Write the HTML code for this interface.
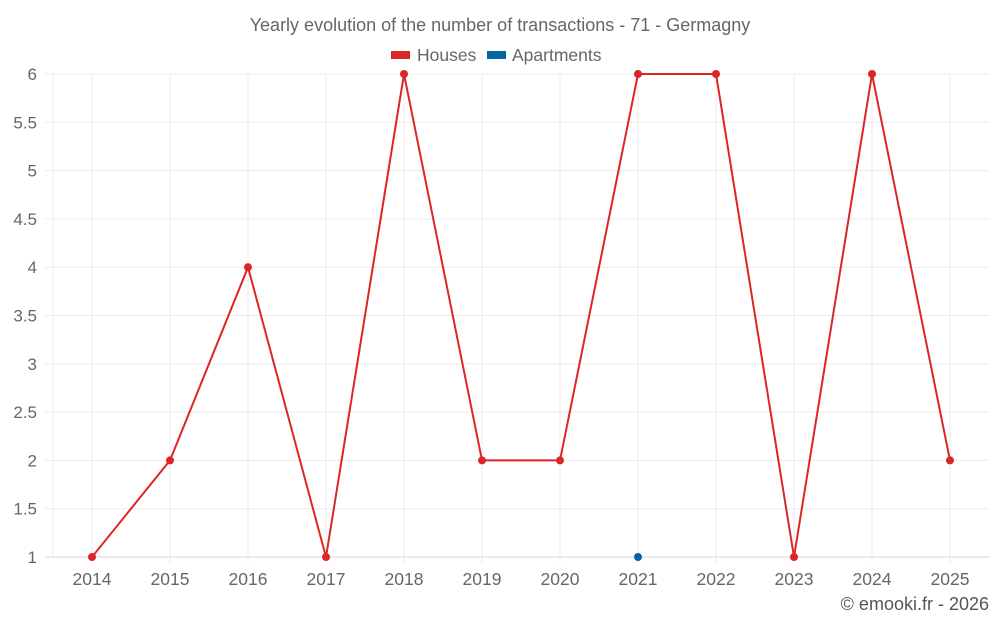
<!DOCTYPE html>
<html><head><meta charset="utf-8"><style>
html,body{margin:0;padding:0;background:#fff;}
svg{display:block;font-family:"Liberation Sans",sans-serif;}
</style></head><body>
<svg id="chart" width="1000" height="625" xmlns="http://www.w3.org/2000/svg">
<text x="500" y="31" text-anchor="middle" font-size="18" fill="#666">Yearly evolution of the number of transactions - 71 - Germagny</text>
<g>
<g><rect x="391" y="51" width="19" height="8" fill="#dc2626"/><text x="417" y="61" font-size="17.5" fill="#666">Houses</text></g>
<g><rect x="487" y="51" width="19" height="8" fill="#03679f"/><text x="512" y="61" font-size="17.5" fill="#666">Apartments</text></g>
</g>
<g id="grid"></g><g id="axes"></g><g id="series"></g>
<text x="989" y="610" text-anchor="end" font-size="18" fill="#555">© emooki.fr - 2026</text>
</svg>
<script>
const categories=["2014","2015","2016","2017","2018","2019","2020","2021","2022","2023","2024","2025"];
const houses=[1,2,4,1,6,2,2,6,6,1,6,2];
const apartments=[null,null,null,null,null,null,null,1,null,null,null,null];
const yTicks=[1,1.5,2,2.5,3,3.5,4,4.5,5,5.5,6];
const L=53,R=989,T=74,B=557,yMin=1,yMax=6;
const bw=(R-L)/categories.length;
function xs(i){return L+bw*(i+0.5);}
function ys(v){return B-(v-yMin)/(yMax-yMin)*(B-T);}
const NS="http://www.w3.org/2000/svg";
function mk(tag,attrs,parent){const e=document.createElementNS(NS,tag);for(const k in attrs)e.setAttribute(k,attrs[k]);parent.appendChild(e);return e;}
const grid=document.getElementById('grid'),axes=document.getElementById('axes'),series=document.getElementById('series');
yTicks.forEach(v=>{
 const l=mk('line',{x1:45,x2:R,y1:ys(v),y2:ys(v),stroke:v===yMin?'#d6d6d6':'#ebebeb','stroke-width':1},grid);
 
 
 const t=mk('text',{x:37,y:ys(v)+6,'text-anchor':'end','font-size':17,fill:'#666'},axes);
 t.textContent=String(v);
 
 
});
const lb=mk('line',{x1:L,x2:L,y1:T,y2:B,stroke:'#ebebeb'},grid);


categories.forEach((c,i)=>{
 const l=mk('line',{x1:xs(i),x2:xs(i),y1:T,y2:B+6,stroke:'#ebebeb'},grid);
 
 
 const t=mk('text',{x:xs(i),y:B+28,'text-anchor':'middle','font-size':17.5,fill:'#666'},axes);
 t.textContent=c;
 
 
});
function draw(vals,color,name){
 let d='',pen=false;
 vals.forEach((v,i)=>{if(v==null){pen=false;return;}d+=(pen?'L':'M')+xs(i)+' '+ys(v)+' ';pen=true;});
 if(d){const p=mk('path',{d:d,fill:'none',stroke:color,'stroke-width':2},series);
 
 }
 vals.forEach((v,i)=>{if(v==null)return;
  const c=mk('circle',{cx:xs(i),cy:ys(v),r:4,fill:color},series);
  
  });
}
draw(houses,'#dc2626','houses');
draw(apartments,'#03679f','apartments');
</script>
</body></html>
